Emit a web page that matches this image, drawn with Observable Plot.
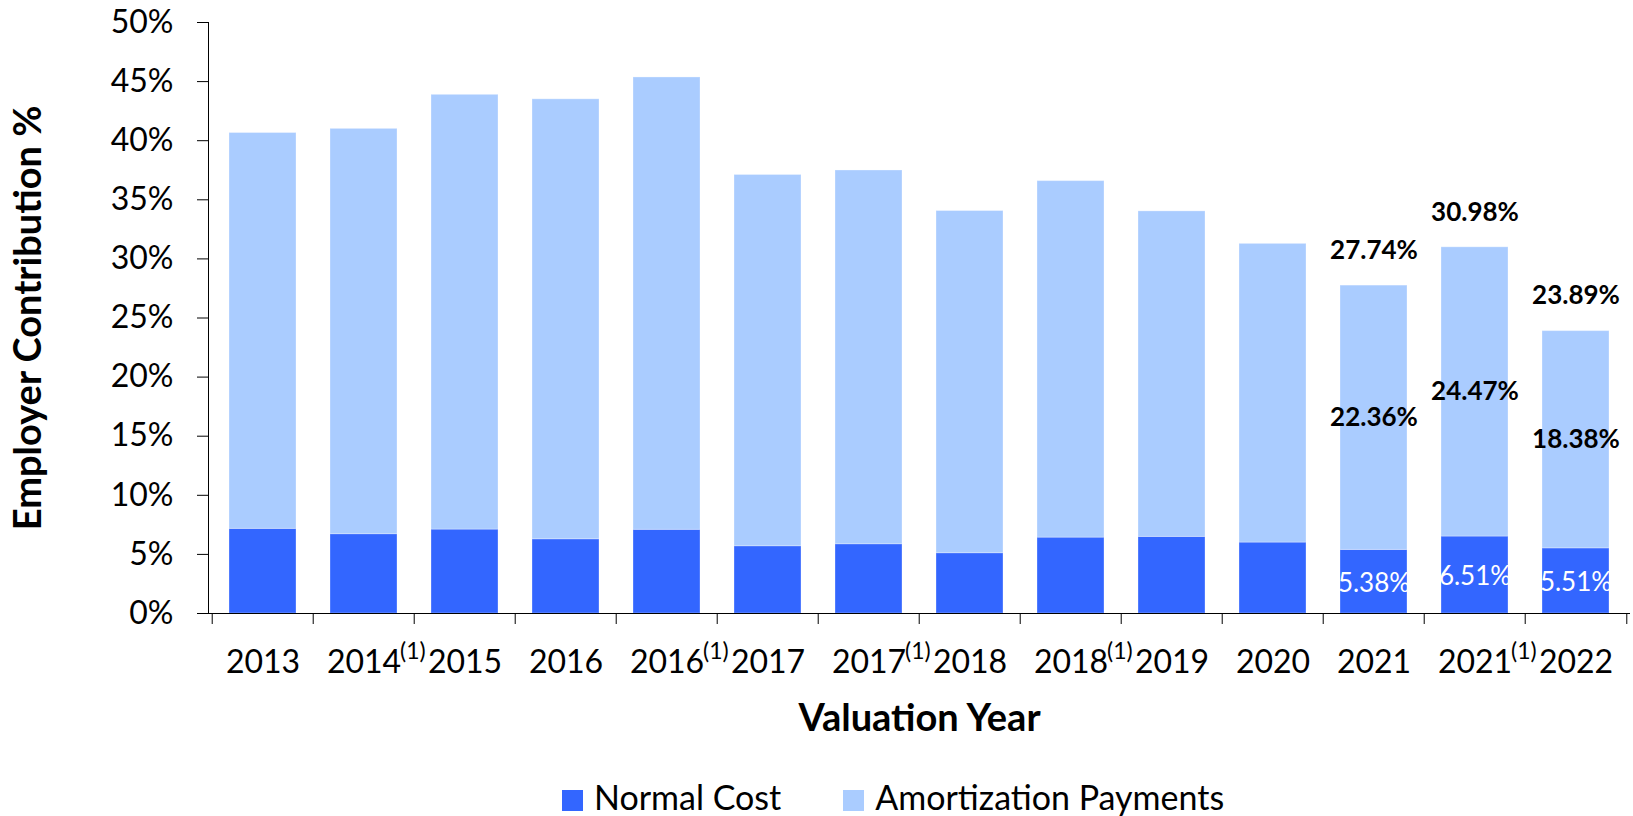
<!DOCTYPE html>
<html><head><meta charset="utf-8">
<script src="https://cdn.jsdelivr.net/npm/d3@7"></script>
<script src="https://cdn.jsdelivr.net/npm/@observablehq/plot@0.6"></script>
<style>
body{margin:0;background:#fff;font-family:Lato,sans-serif;}
#chart{position:relative;width:1633px;height:816px;overflow:hidden;}
#chart svg{display:block;}
.legend{position:absolute;left:562px;top:780px;height:34px;display:flex;align-items:flex-start;font-size:34px;line-height:34px;color:#000;white-space:nowrap;}
.item{display:flex;align-items:flex-start;}
.item + .item{margin-left:62px;}
.sw{width:21px;height:21px;margin-top:10px;margin-right:11px;}
</style></head><body><div id="chart"></div>
<script>
const categories = ["2013","2014(1)","2015","2016","2016(1)","2017","2017(1)","2018","2018(1)","2019","2020","2021","2021(1)","2022"];
const normalCost = [7.16, 6.71, 7.10, 6.28, 7.08, 5.69, 5.86, 5.10, 6.42, 6.48, 6.00, 5.38, 6.51, 5.51];
const amortization = [33.49, 34.29, 36.78, 37.22, 38.27, 31.41, 31.62, 28.95, 30.16, 27.54, 25.27, 22.36, 24.47, 18.38];
const labeledCategories = ["2021","2021(1)","2022"];
const yTicks = [0, 5, 10, 15, 20, 25, 30, 35, 40, 45, 50];
const seriesNames = ["Normal Cost","Amortization Payments"];
const seriesColors = ["#3366FF","#AACCFF"];

const W = 1633, H = 770, mL = 208, mR = 3, mT = 22, mB = 157;
const step = (W - mL - mR) / categories.length;
const innerH = H - mT - mB;

const rows = categories.flatMap((c, i) => [
  {category: c, series: seriesNames[0], value: normalCost[i]},
  {category: c, series: seriesNames[1], value: amortization[i]}
]);
const labelRows = categories.map((c, i) => ({category: c, normal: normalCost[i], amort: amortization[i], total: normalCost[i] + amortization[i]}))
  .filter(d => labeledCategories.includes(d.category));
const fmt = v => v.toFixed(2) + "%";

const plot = Plot.plot({
  width: W, height: H, marginLeft: mL, marginRight: mR, marginTop: mT, marginBottom: mB,
  style: {fontFamily: "Lato, sans-serif", fontSize: "32px", color: "#000", background: "#fff"},
  x: {type: "band", domain: categories, paddingInner: 0.337, paddingOuter: 0.1685, axis: null},
  y: {domain: [0, 50], axis: null},
  color: {domain: seriesNames, range: seriesColors},
  marks: [
    Plot.barY(rows, {x: "category", y: "value", fill: "series", order: seriesNames, stroke: "#fff", strokeOpacity: 0.3}),
    Plot.axisY({ticks: yTicks, tickFormat: d => d + "%", tickSize: 11, tickPadding: 24, fontSize: 32, label: null}),
    Plot.frame({anchor: "left", stroke: "#000"}),
    Plot.ruleY([0], {stroke: "#000"}),
    Plot.tickX(categories, {x: d => d, dx: -step / 2, insetTop: innerH, insetBottom: -11, stroke: "#000"}),
    Plot.tickX(categories.slice(-1), {x: d => d, dx: step / 2, insetTop: innerH, insetBottom: -11, stroke: "#000"}),
    Plot.text(categories, {x: d => d, text: d => d.replace("(1)", ""), frameAnchor: "bottom", dy: 49, lineAnchor: "middle", fontSize: 32}),
    Plot.text(categories.filter(d => d.includes("(1)")), {x: d => d, text: () => "(1)", frameAnchor: "bottom", textAnchor: "start", dx: 36, dy: 38, lineAnchor: "middle", fontSize: 23}),
    Plot.text(["Valuation Year"], {text: d => d, frameAnchor: "bottom", dy: 105, lineAnchor: "middle", fontWeight: "bold", fontSize: 38}),
    Plot.text(["Employer Contribution %"], {text: d => d, frameAnchor: "left", dx: -180, rotate: -90, textAnchor: "middle", lineAnchor: "middle", fontWeight: "bold", fontSize: 38}),
    Plot.text(labelRows, {x: "category", y: "total", text: d => fmt(d.total), dy: -35, lineAnchor: "middle", fontWeight: "bold", fontSize: 26, fill: "#000"}),
    Plot.text(labelRows, {x: "category", y: d => d.normal + d.amort / 2, text: d => fmt(d.amort), lineAnchor: "middle", fontWeight: "bold", fontSize: 26, fill: "#000"}),
    Plot.text(labelRows, {x: "category", y: d => d.normal / 2, text: d => fmt(d.normal), dy: 2, lineAnchor: "middle", fontSize: 26, fill: "#fff"})
  ]
});

const chart = document.getElementById("chart");
chart.appendChild(plot);
const legend = document.createElement("div");
legend.className = "legend";
seriesNames.forEach((name, i) => {
  const item = document.createElement("div");
  item.className = "item";
  const sw = document.createElement("span");
  sw.className = "sw";
  sw.style.background = seriesColors[i];
  const label = document.createElement("span");
  label.textContent = name;
  item.appendChild(sw);
  item.appendChild(label);
  legend.appendChild(item);
});
chart.appendChild(legend);
</script>
</body></html>
